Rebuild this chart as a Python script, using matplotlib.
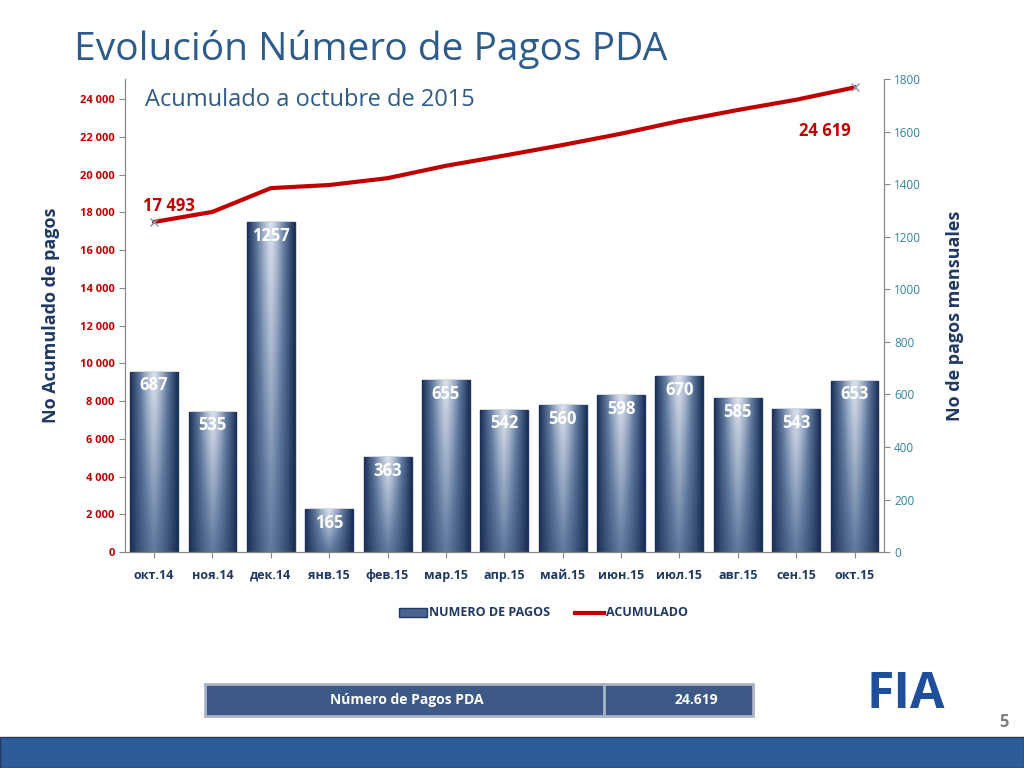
import numpy as np
import matplotlib
matplotlib.use("Agg")
import matplotlib.pyplot as plt
from matplotlib.patches import Rectangle

months = ["окт.14", "ноя.14", "дек.14", "янв.15", "фев.15", "мар.15", "апр.15",
          "май.15", "июн.15", "июл.15", "авг.15", "сен.15", "окт.15"]
monthly = [687, 535, 1257, 165, 363, 655, 542, 560, 598, 670, 585, 543, 653]
cumulative = [17493, 18028, 19285, 19450, 19813, 20468, 21010, 21570, 22168,
              22838, 23423, 23966, 24619]
left_ticks = list(range(0, 24001, 2000))
right_ticks = list(range(0, 1801, 200))

RED = "#C00000"
TEAL = "#31849B"
NAVY = "#1F3864"
plt.rcParams["font.family"] = "Open Sans"

fig = plt.figure(figsize=(10.24, 7.68), dpi=100)
fig.text(0.072, 0.935, "Evolución Número de Pagos PDA", fontsize=28, color="#2E5C8A",
         va="center")

ax = fig.add_axes([0.122, 0.281, 0.741, 0.616])
ax2 = ax.twinx()
ax.set_zorder(2)
ax.patch.set_visible(False)

x = np.arange(len(months))
bars = ax2.bar(x, monthly, width=0.82, color="#5A7396", edgecolor=NAVY, linewidth=1, zorder=1)

gx = np.abs(np.linspace(-1, 1, 64))
gy = np.linspace(0, 1, 64)[:, None]
grad = 0.1 + 0.8 * (1 - gx[None, :] ** 1.3) * (0.5 + 0.5 * gy)
cmap = matplotlib.colors.LinearSegmentedColormap.from_list("b", ["#1B2F55", "#5F789E", "#D8E0EC"])
for b in bars:
    x0, w, h = b.get_x(), b.get_width(), b.get_height()
    im = ax2.imshow(grad, cmap=cmap, extent=[x0, x0 + w, 0, h], aspect="auto",
                    origin="lower", zorder=1.5)
    im.set_clip_path(b)
for xi, v in zip(x, monthly):
    ax2.text(xi, v - 18, f"{v}", ha="center", va="top", color="white",
             fontsize=12, fontweight="bold", zorder=3)

ax.plot(x, cumulative, color=RED, linewidth=3, zorder=4)
ax.plot([x[0], x[-1]], [cumulative[0], cumulative[-1]], "x", color="#8899AA",
        markersize=6, zorder=5)
ax.text(x[0] + 0.25, cumulative[0] + 850, "17 493", color=RED, fontsize=12,
        fontweight="bold", ha="center", va="center")
ax.text(x[-1] - 0.5, cumulative[-1] - 2300, "24 619", color=RED, fontsize=12,
        fontweight="bold", ha="center", va="center")

ax.set_xlim(-0.5, len(months) - 0.5)
ax.set_ylim(0, 25060)
ax2.set_ylim(0, 1800)
ax.set_yticks(left_ticks)
ax.set_yticklabels([f"{t:,}".replace(",", " ") for t in left_ticks], color=RED,
                   fontsize=8, fontweight="bold")
ax2.set_yticks(right_ticks)
ax2.set_yticklabels([str(t) for t in right_ticks], color=TEAL, fontsize=8.5)
ax.set_xticks(x)
ax.set_xticklabels(months, fontsize=9, fontweight="bold", color=NAVY)
for a in (ax, ax2):
    a.spines["top"].set_visible(False)
    for s in ("left", "right", "bottom"):
        a.spines[s].set_color("#888888")
    a.tick_params(length=4, color="#888888")
ax.tick_params(axis="x", pad=8)
ax.set_ylabel("No Acumulado de pagos", fontsize=13, fontweight="bold", color=NAVY,
              labelpad=14)
ax2.set_ylabel("No de pagos mensuales", fontsize=13, fontweight="bold", color=NAVY,
               labelpad=18)
ax.text(0.027, 0.955, "Acumulado a octubre de 2015", transform=ax.transAxes,
        fontsize=17, color="#2E5C8A", va="center")

# legend
fig.patches.append(Rectangle((0.39, 0.197), 0.027, 0.011, transform=fig.transFigure,
                             facecolor="#4A6590", edgecolor=NAVY))
fig.text(0.419, 0.202, "NUMERO DE PAGOS", fontsize=9, fontweight="bold",
         color=NAVY, va="center")
fig.lines.append(plt.Line2D([0.562, 0.59], [0.202, 0.202], transform=fig.transFigure,
                            color=RED, linewidth=3))
fig.text(0.592, 0.202, "ACUMULADO", fontsize=9, fontweight="bold",
         color=NAVY, va="center")

# footer box
fig.patches.append(Rectangle((0.2, 0.068), 0.535, 0.042, transform=fig.transFigure,
                             facecolor="#3C5A85", edgecolor="#AAB4C8", linewidth=2))
fig.lines.append(plt.Line2D([0.59, 0.59], [0.068, 0.11], transform=fig.transFigure,
                            color="#AAB4C8", linewidth=2))
fig.text(0.397, 0.089, "Número de Pagos PDA", fontsize=10, fontweight="bold",
         color="white", ha="center", va="center")
fig.text(0.68, 0.089, "24.619", fontsize=10, fontweight="bold",
         color="white", ha="center", va="center")
fig.text(0.885, 0.095, "FIA", fontsize=36, fontweight="bold", color="#1F4E9A",
         ha="center", va="center")
fig.text(0.985, 0.06, "5", fontsize=12, fontweight="bold", color="#7F7F7F",
         ha="right", va="center")
fig.patches.append(Rectangle((0.0, 0.0), 1.0, 0.04, transform=fig.transFigure,
                             facecolor="#2E5C9A", edgecolor="#1F3864"))

fig.savefig("out.png", dpi=100)
